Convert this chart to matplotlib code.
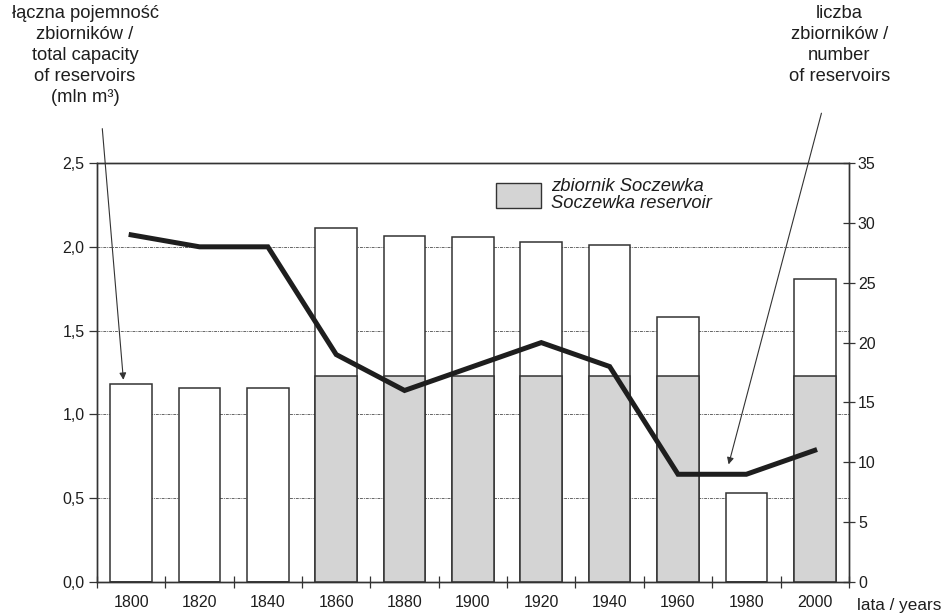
import numpy as np
import matplotlib.pyplot as plt
from matplotlib.patches import Patch

plt.rcParams['font.family'] = ['Liberation Sans', 'DejaVu Sans']

# data
years = ['1800', '1820', '1840', '1860', '1880', '1900', '1920', '1940', '1960', '1980', '2000']
capacity_total = [1.18, 1.16, 1.16, 2.11, 2.065, 2.06, 2.03, 2.01, 1.58, 0.53, 1.81]
capacity_soczewka = [0, 0, 0, 1.23, 1.23, 1.23, 1.23, 1.23, 1.23, 0, 1.23]
reservoir_count = [29, 28, 28, 19, 16, 18, 20, 18, 9, 9, 11]

ink = '#1e1e1e'
fs_tick = 11.5
fs_cap = 13.2

fig = plt.figure(figsize=(9.45, 6.14), dpi=100)
ax = fig.add_axes([0.1026, 0.0521, 0.7957, 0.6824])
x = np.arange(len(years))

# grid lines behind bars
for g in [0.5, 1.0, 1.5, 2.0]:
    ax.axhline(g, color='#666666', lw=0.7, ls=(0, (3, 1, 1, 1)), zorder=0)

ax.bar(x, capacity_total, width=0.61, color='white', edgecolor='#333333', lw=1.1, zorder=2)
ax.bar(x, capacity_soczewka, width=0.61, color='#d4d4d4', edgecolor='#333333', lw=1.1, zorder=3)

ax.set_xlim(-0.5, len(years) - 0.5)
ax.set_ylim(0, 2.5)
ax.set_yticks([0, 0.5, 1.0, 1.5, 2.0, 2.5])
ax.set_yticklabels(['0,0', '0,5', '1,0', '1,5', '2,0', '2,5'])
ax.set_xticks(np.arange(-0.5, len(years), 1.0))
ax.set_xticklabels([])
ax.set_xticks(x, minor=True)
ax.set_xticklabels(years, minor=True)
ax.tick_params(axis='x', which='major', direction='inout', length=9, width=0.9, color='#333333')
ax.tick_params(axis='x', which='minor', length=0, pad=9, labelsize=fs_tick, labelcolor=ink)
ax.tick_params(axis='y', direction='out', length=6, width=0.9, color='#333333',
               labelsize=fs_tick, labelcolor=ink, pad=3)
for s in ['left', 'right', 'top', 'bottom']:
    ax.spines[s].set_color('#333333')
    ax.spines[s].set_linewidth(1.0)

ax2 = ax.twinx()
ax2.plot(x, reservoir_count, color=ink, lw=3.6, solid_joinstyle='miter', zorder=5)
ax2.set_ylim(0, 35)
ax2.set_yticks(range(0, 36, 5))
ax2.tick_params(axis='y', direction='inout', length=9, width=0.9, color='#333333',
                labelsize=fs_tick, labelcolor=ink, pad=2)
for s in ['left', 'right', 'top', 'bottom']:
    ax2.spines[s].set_color('#333333')
    ax2.spines[s].set_linewidth(1.0)

# legend
leg = ax.legend(handles=[Patch(facecolor='#d4d4d4', edgecolor='#333333', lw=1.0)],
                labels=['zbiornik Soczewka\nSoczewka reservoir'],
                loc='upper left', bbox_to_anchor=(0.531, 0.965), frameon=False,
                borderaxespad=0, borderpad=0,
                handlelength=2.45, handleheight=1.65, handletextpad=0.55,
                prop={'style': 'italic', 'size': fs_cap})
for t in leg.get_texts():
    t.set_color(ink)
    t.set_linespacing(1.05)

# axis captions
fig.text(0.090, 0.992, 'łączna pojemność\nzbiorników /\ntotal capacity\nof reservoirs\n(mln m³)',
         ha='center', va='top', fontsize=fs_cap, color=ink, linespacing=1.3)
fig.text(0.888, 0.992, 'liczba\nzbiorników /\nnumber\nof reservoirs',
         ha='center', va='top', fontsize=fs_cap, color=ink, linespacing=1.3)
ax.text(1.011, -0.055, 'lata / years', transform=ax.transAxes, ha='left', va='center',
        fontsize=12.3, color=ink)

# arrows pointing at the series
ax.annotate('', xy=(-0.11, capacity_total[0] + 0.01), xycoords='data',
            xytext=(0.108, 0.795), textcoords='figure fraction',
            arrowprops=dict(arrowstyle='-|>', color='#333333', lw=0.8, mutation_scale=10))
ax2.annotate('', xy=(8.73, reservoir_count[9] + 0.6), xycoords='data',
             xytext=(0.87, 0.82), textcoords='figure fraction',
             arrowprops=dict(arrowstyle='-|>', color='#333333', lw=0.8, mutation_scale=10))

fig.savefig('out.png', dpi=100)
